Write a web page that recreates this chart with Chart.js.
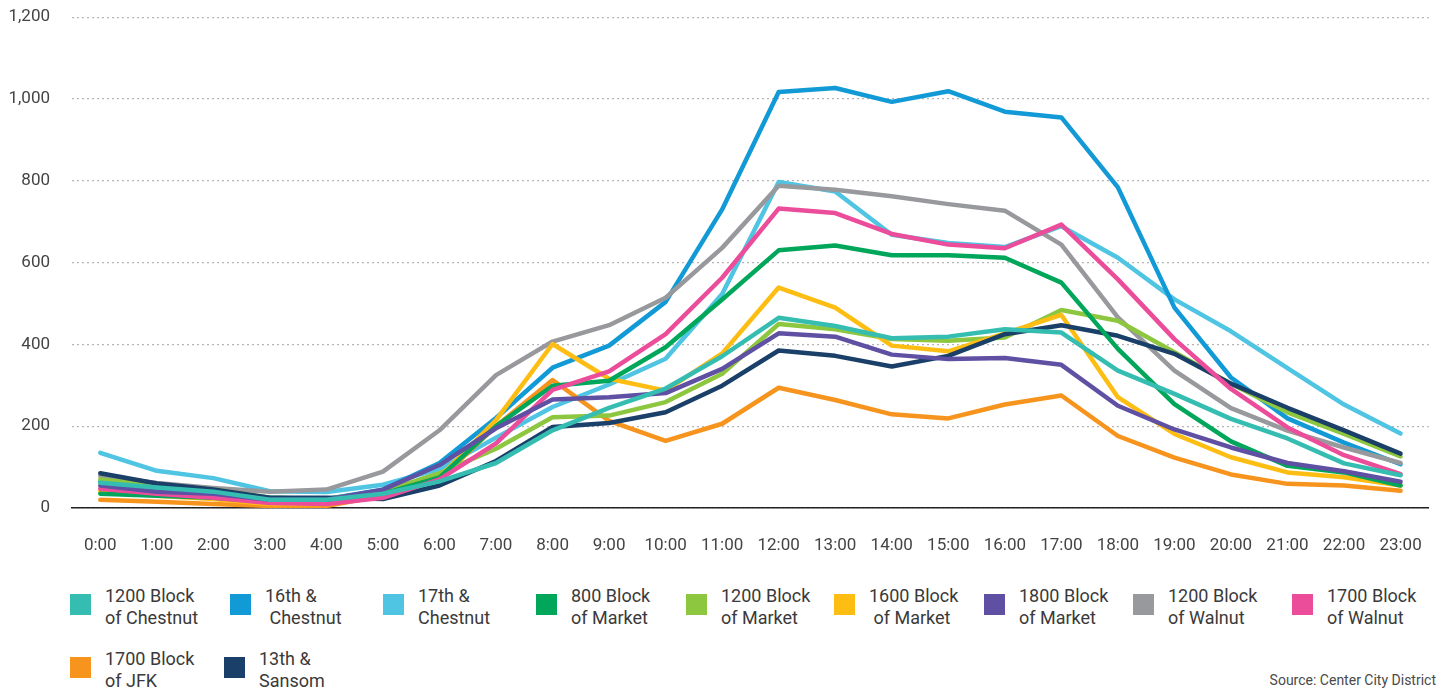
<!DOCTYPE html>
<html>
<head>
<meta charset="utf-8">
<script src="https://cdn.jsdelivr.net/npm/chart.js@4.4.0/dist/chart.umd.min.js"></script>
<style>
  html, body { margin: 0; padding: 0; background: #fff; }
  body { width: 1450px; height: 692px; position: relative; overflow: hidden; font-family: Roboto, "Noto Sans", sans-serif; }
  #wrap { position: absolute; left: 0; top: -15px; width: 1450px; height: 585px; }
  .item { position: absolute; height: 46px; }
  .box { position: absolute; left: 0; top: 9px; width: 21px; height: 21px; }
  .lbl { position: absolute; left: 35px; top: 0; font-size: 18px; line-height: 22px; color: #3a3a3a; white-space: pre; }
  #source { position: absolute; right: 14px; top: 672px; font-size: 14px; color: #4a4a4a; }
</style>
</head>
<body>
<div id="wrap"><canvas id="c" width="1450" height="585"></canvas></div>
<div id="legend"></div>
<div id="source">Source: Center City District</div>
<script>
const hours = ["0:00","1:00","2:00","3:00","4:00","5:00","6:00","7:00","8:00","9:00","10:00","11:00","12:00","13:00","14:00","15:00","16:00","17:00","18:00","19:00","20:00","21:00","22:00","23:00"];
const yTicks = [0, 200, 400, 600, 800, 1000, 1200];

const seriesNames = ["1200 Block\nof Chestnut", "16th &\n Chestnut", "17th &\nChestnut", "800 Block\nof Market", "1200 Block\nof Market", "1600 Block\n of Market", "1800 Block\nof Market", "1200 Block\nof Walnut", "1700 Block\nof Walnut", "1700 Block\nof JFK", "13th &\nSansom"];
const seriesColors = ["#35BDB2", "#129AD7", "#4FC4E3", "#00A65A", "#8DC63F", "#FDBD12", "#5F50A3", "#98999C", "#EC4D9A", "#F7941E", "#1A3F68"];
const drawOrder = [0, 9, 10, 4, 7, 6, 2, 8, 3, 7.5, 5];

const chestnut1200 = [62, 50, 40, 20, 20, 35, 65, 110, 190, 245, 292, 371, 465, 445, 415, 419, 437, 429, 336, 279, 218, 170, 109, 80];
const chestnut16 = [65, 50, 40, 25, 22, 45, 110, 220, 343, 397, 504, 730, 1017, 1027, 993, 1019, 969, 955, 784, 490, 319, 219, 160, 107];
const chestnut17 = [135, 91, 73, 41, 39, 57, 95, 172, 247, 302, 365, 523, 797, 774, 668, 648, 638, 689, 612, 510, 432, 342, 253, 182];
const market800 = [35, 30, 25, 15, 12, 35, 75, 200, 299, 311, 393, 510, 630, 642, 618, 618, 612, 551, 389, 254, 163, 103, 87, 55];
const market1200 = [70, 55, 45, 25, 22, 40, 85, 145, 222, 226, 259, 328, 450, 437, 413, 409, 417, 484, 458, 381, 304, 234, 181, 126];
const market1600 = [42, 30, 22, 10, 10, 35, 75, 215, 401, 316, 287, 378, 539, 490, 397, 383, 427, 472, 271, 181, 124, 87, 75, 55];
const market1800 = [55, 40, 35, 20, 20, 45, 105, 195, 265, 271, 281, 340, 427, 419, 375, 364, 367, 350, 250, 192, 148, 110, 90, 64];
const walnut1200 = [78, 61, 49, 40, 45, 89, 190, 325, 407, 447, 514, 636, 788, 778, 762, 743, 727, 644, 466, 336, 244, 189, 148, 110];
const walnut1700 = [47, 35, 25, 12, 10, 25, 70, 158, 289, 334, 425, 563, 732, 721, 670, 644, 635, 693, 559, 413, 291, 197, 129, 83];
const jfk1700 = [20, 15, 10, 5, 5, 30, 70, 200, 313, 213, 164, 206, 294, 264, 229, 219, 253, 275, 176, 123, 82, 59, 55, 42];
const sansom13 = [85, 60, 45, 25, 25, 22, 55, 115, 198, 208, 234, 299, 385, 372, 346, 372, 425, 447, 421, 377, 304, 245, 190, 133];

const seriesValues = [chestnut1200, chestnut16, chestnut17, market800, market1200, market1600, market1800, walnut1200, walnut1700, jfk1700, sansom13];

const datasets = seriesValues.map((vals, i) => ({
  label: seriesNames[i].replace(/\n\s*/g, " "),
  data: vals,
  borderColor: seriesColors[i],
  backgroundColor: seriesColors[i],
  borderWidth: 4.5,
  pointRadius: 0,
  pointHoverRadius: 0,
  tension: 0,
  fill: false,
  borderCapStyle: "round",
  borderJoinStyle: "round",
  order: drawOrder[i]
}));

new Chart(document.getElementById("c"), {
  type: "line",
  data: { labels: hours, datasets: datasets },
  options: {
    responsive: false,
    animation: false,
    layout: { padding: { top: 0, right: 13, left: 0, bottom: 0 } },
    plugins: { legend: { display: false }, tooltip: { enabled: false } },
    scales: {
      x: {
        offset: true,
        grid: { display: false, drawTicks: false },
        border: { display: true, color: "#222", width: 1.5 },
        ticks: { color: "#444", font: { family: "Roboto", size: 17 }, padding: 28, maxRotation: 0, autoSkip: false },
        afterFit: s => { s.height = 62; }
      },
      y: {
        min: 0, max: 1200,
        afterBuildTicks: s => { s.ticks = yTicks.map(v => ({ value: v })); },
        grid: { color: "#b5b5b5", lineWidth: 1.2, drawTicks: false },
        border: { display: false, dash: [2, 3] },
        ticks: { color: "#444", font: { family: "Roboto", size: 17 }, padding: 22,
          callback: v => v.toLocaleString("en-US") },
        afterFit: s => { s.width = 72; }
      }
    }
  }
});

const legendPos = [[70, 585], [230, 585], [383, 585], [536, 585], [686, 585], [834, 585], [984, 585], [1133, 585], [1292, 585], [70, 648], [224, 648]];
const legend = document.getElementById("legend");
seriesNames.forEach((n, i) => {
  const it = document.createElement("div");
  it.className = "item";
  it.style.left = legendPos[i][0] + "px";
  it.style.top = legendPos[i][1] + "px";
  const b = document.createElement("div");
  b.className = "box";
  b.style.background = seriesColors[i];
  const l = document.createElement("div");
  l.className = "lbl";
  l.textContent = n;
  it.appendChild(b); it.appendChild(l);
  legend.appendChild(it);
});
</script>
</body>
</html>
